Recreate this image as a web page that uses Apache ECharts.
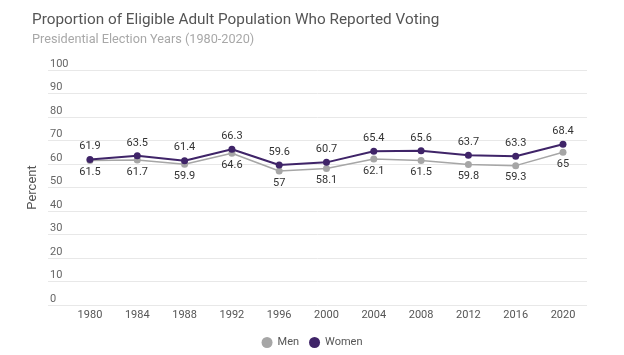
<!DOCTYPE html>
<html>
<head>
<meta charset="utf-8">
<script src="https://cdn.jsdelivr.net/npm/echarts@6/dist/echarts.min.js"></script>
<style>
  html, body { margin: 0; padding: 0; background: #fff; }
  #chart { width: 624px; height: 355px; }
</style>
</head>
<body>
<div id="chart"></div>
<script>
const years = [1980, 1984, 1988, 1992, 1996, 2000, 2004, 2008, 2012, 2016, 2020];
const men = [61.5, 61.7, 59.9, 64.6, 57, 58.1, 62.1, 61.5, 59.8, 59.3, 65];
const women = [61.9, 63.5, 61.4, 66.3, 59.6, 60.7, 65.4, 65.6, 63.7, 63.3, 68.4];

const menColor = '#a6a6a6';
const womenColor = '#3f2468';
const font = 'Roboto, "Noto Sans", sans-serif';

const chart = echarts.init(document.getElementById('chart'), null, { renderer: 'canvas' });
chart.setOption({
  animation: false,
  backgroundColor: '#ffffff',
  title: {
    text: 'Proportion of Eligible Adult Population Who Reported Voting',
    subtext: 'Presidential Election Years (1980-2020)',
    left: 27,
    top: 8,
    itemGap: 5,
    textStyle: { fontFamily: font, fontSize: 15.3, fontWeight: 'normal', color: '#555555' },
    subtextStyle: { fontFamily: font, fontSize: 12.7, color: '#a8a8a8' }
  },
  legend: {
    data: ['Men', 'Women'],
    left: 'center',
    top: 332,
    icon: 'circle',
    itemWidth: 11,
    itemHeight: 11,
    itemGap: 10,
    textStyle: { fontFamily: font, fontSize: 11, color: '#555555' }
  },
  grid: { left: 48, right: 37, top: 70, bottom: 50 },
  xAxis: {
    type: 'value',
    min: 1976.45,
    max: 2022.03,
    axisLine: { show: false },
    axisTick: { show: false },
    splitLine: { show: false },
    axisLabel: {
      customValues: years,
      formatter: v => String(v),
      fontFamily: font, fontSize: 11, color: '#555555', margin: 5
    }
  },
  yAxis: {
    type: 'value',
    min: 0,
    max: 100,
    interval: 10,
    name: 'Percent',
    nameLocation: 'middle',
    nameGap: 4,
    nameTextStyle: { fontFamily: font, fontSize: 13, color: '#555555' },
    axisLine: { show: false },
    axisTick: { show: false },
    splitLine: { lineStyle: { color: '#e8e8e8', width: 1 } },
    axisLabel: {
      inside: true,
      margin: 2,
      verticalAlign: 'bottom',
      lineHeight: 12,
      fontFamily: font, fontSize: 11, color: '#666666'
    }
  },
  series: [
    {
      name: 'Men',
      type: 'line',
      data: years.map((y, i) => [y, men[i]]),
      symbol: 'circle',
      symbolSize: 7,
      itemStyle: { color: menColor },
      lineStyle: { color: menColor, width: 1.5 },
      label: {
        show: true, position: 'bottom', distance: 3,
        formatter: p => String(p.value[1]),
        fontFamily: font, fontSize: 11, color: '#333333'
      },
      z: 2
    },
    {
      name: 'Women',
      type: 'line',
      data: years.map((y, i) => [y, women[i]]),
      symbol: 'circle',
      symbolSize: 7,
      itemStyle: { color: womenColor },
      lineStyle: { color: womenColor, width: 2 },
      label: {
        show: true, position: 'top', distance: 4,
        formatter: p => String(p.value[1]),
        fontFamily: font, fontSize: 11, color: '#333333'
      },
      z: 3
    }
  ]
});
</script>
</body>
</html>
